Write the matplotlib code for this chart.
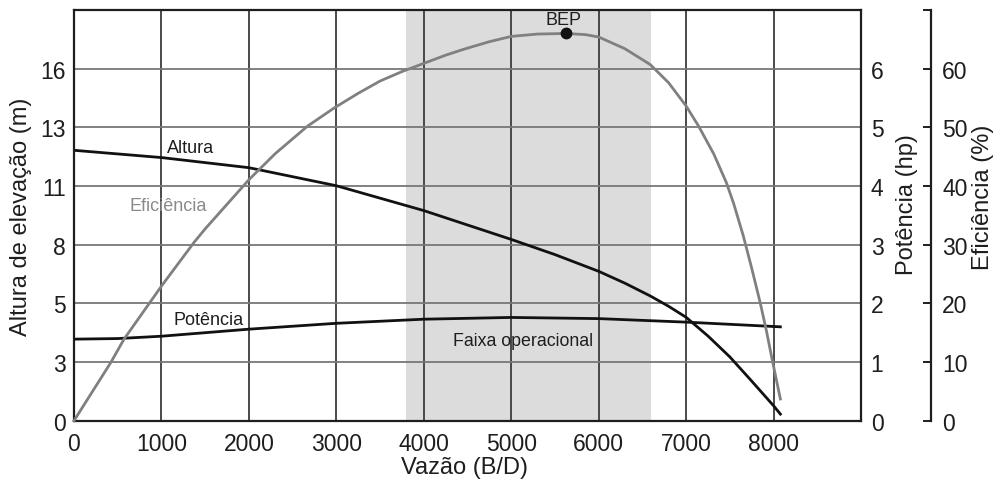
import matplotlib
matplotlib.use("Agg")
import matplotlib.pyplot as plt

plt.rcParams['font.family'] = ['Liberation Sans', 'DejaVu Sans']

# ---- data ----
flow_altura = [0, 1000, 2000, 3000, 4000, 5000, 5500, 6000, 6300, 6590, 6800, 7000,
               7250, 7500, 7750, 8000, 8078]
altura_m = [12.29, 11.96, 11.50, 10.68, 9.55, 8.24, 7.55, 6.79, 6.25, 5.67, 5.20, 4.70,
            3.85, 2.90, 1.80, 0.68, 0.30]

flow_pot = [0, 500, 1000, 2000, 3000, 4000, 5000, 6000, 7000, 8078]
potencia_hp = [1.39, 1.40, 1.44, 1.56, 1.66, 1.73, 1.76, 1.74, 1.68, 1.60]

flow_eff = [0, 420, 572, 1003, 1373, 1500, 2002, 2300, 2670, 2975, 3250, 3501, 3750,
            4000, 4250, 4455, 4750, 5000, 5300, 5626, 5850, 6000, 6300, 6590, 6800,
            7002, 7143, 7315, 7460, 7544, 7654, 7750, 7849, 7920, 7983, 8078]
eficiencia_pct = [0, 9.9, 13.9, 23.0, 30.4, 32.7, 41.1, 45.5, 50.2, 53.3, 55.8, 57.9, 59.5,
                  60.9, 62.3, 63.3, 64.6, 65.5, 65.9, 66.0, 65.8, 65.4, 63.4, 60.7, 57.6,
                  53.6, 50.2, 45.5, 40.6, 37.0, 31.5, 26.0, 20.0, 15.2, 10.5, 3.7]

bep_flow = 5626
bep_eff = 66.0
faixa = (3800, 6600)

x_ticks = [0, 1000, 2000, 3000, 4000, 5000, 6000, 7000, 8000]
alt_tick_labels = ['0', '3', '5', '8', '11', '13', '16']
pot_ticks = [0, 1, 2, 3, 4, 5, 6]
eff_ticks = [0, 10, 20, 30, 40, 50, 60, 70]
eff_tick_labels = ['0', '10', '20', '30', '40', '50', '60', '']

# ---- figure ----
W, H = 1003, 485
fig = plt.figure(figsize=(W / 100, H / 100), dpi=100)
L, R, T, B = 74, 861, 11, 421.7
ax = fig.add_axes([L / W, 1 - B / H, (R - L) / W, (B - T) / H])

dark = '#1e1e1e'
fs = 16.5

ax.set_xlim(0, 9000)
ax.set_ylim(0, 7 * 16 / 6)
ax.axvspan(faixa[0], faixa[1], color='#dcdcdc', zorder=0, lw=0)

for xv in x_ticks[1:]:
    ax.axvline(xv, color='#3c3c3c', lw=1.3, zorder=1)
for k in range(1, 7):
    ax.axhline(k * 16 / 6, color='#777777', lw=1.3, zorder=1)

ax.set_xticks(x_ticks)
ax.set_xticklabels([str(v) for v in x_ticks])
ax.set_yticks([k * 16 / 6 for k in range(7)])
ax.set_yticklabels(alt_tick_labels)
ax.tick_params(axis='both', length=0, labelsize=fs, colors=dark)
ax.tick_params(axis='x', pad=8)
ax.tick_params(axis='y', pad=6)
for s in ax.spines.values():
    s.set_color(dark)
    s.set_linewidth(1.6)
    s.set_zorder(5)

ax.plot(flow_altura, altura_m, color='#111111', lw=2.0, zorder=4)

# Potência axis
ax_p = ax.twinx()
ax_p.set_ylim(0, 7)
ax_p.set_yticks(pot_ticks)
ax_p.tick_params(axis='y', length=0, labelsize=fs, colors=dark, pad=7)
for s in ax_p.spines.values():
    s.set_visible(False)
ax_p.plot(flow_pot, potencia_hp, color='#111111', lw=2.0, zorder=4)

# Eficiência axis
ax_e = ax.twinx()
ax_e.set_ylim(0, 70)
ax_e.spines['right'].set_position(('axes', (931 - L) / (R - L)))
for k in ['left', 'top', 'bottom']:
    ax_e.spines[k].set_visible(False)
ax_e.spines['right'].set_color(dark)
ax_e.spines['right'].set_linewidth(1.6)
ax_e.set_yticks(eff_ticks)
ax_e.set_yticklabels(eff_tick_labels)
ax_e.tick_params(axis='y', direction='in', length=6, width=1.4, labelsize=fs,
                 colors=dark, pad=8)
ax_e.plot(flow_eff, eficiencia_pct, color='#808080', lw=2.0, zorder=3, clip_on=False)
ax_e.plot([bep_flow], [bep_eff], 'o', color='#111111', ms=7.5, zorder=6)

# annotations
ax.text(1335, 12.42, 'Altura', fontsize=13, color=dark, ha='center', va='center')
ax_e.text(1073, 36.7, 'Eficiência', fontsize=13, color='#8a8a8a', ha='center', va='center')
ax_p.text(1536, 1.72, 'Potência', fontsize=13, color=dark, ha='center', va='center')
ax_p.text(5135, 1.366, 'Faixa operacional', fontsize=12.8, color=dark, ha='center', va='center')
ax_e.text(5596, 68.4, 'BEP', fontsize=13, color=dark, ha='center', va='center')

# axis labels
fig.text(21 / W, 1 - 217 / H, 'Altura de elevação (m)', rotation=90, fontsize=17,
         color=dark, ha='center', va='center')
fig.text(907 / W, 1 - 205 / H, 'Potência (hp)', rotation=90, fontsize=17,
         color=dark, ha='center', va='center')
fig.text(983 / W, 1 - 197 / H, 'Eficiência (%)', rotation=90, fontsize=17,
         color=dark, ha='center', va='center')
fig.text(465 / W, 1 - 468 / H, 'Vazão (B/D)', fontsize=17, color=dark,
         ha='center', va='center')

fig.savefig('out.png', dpi=100, facecolor='white')
